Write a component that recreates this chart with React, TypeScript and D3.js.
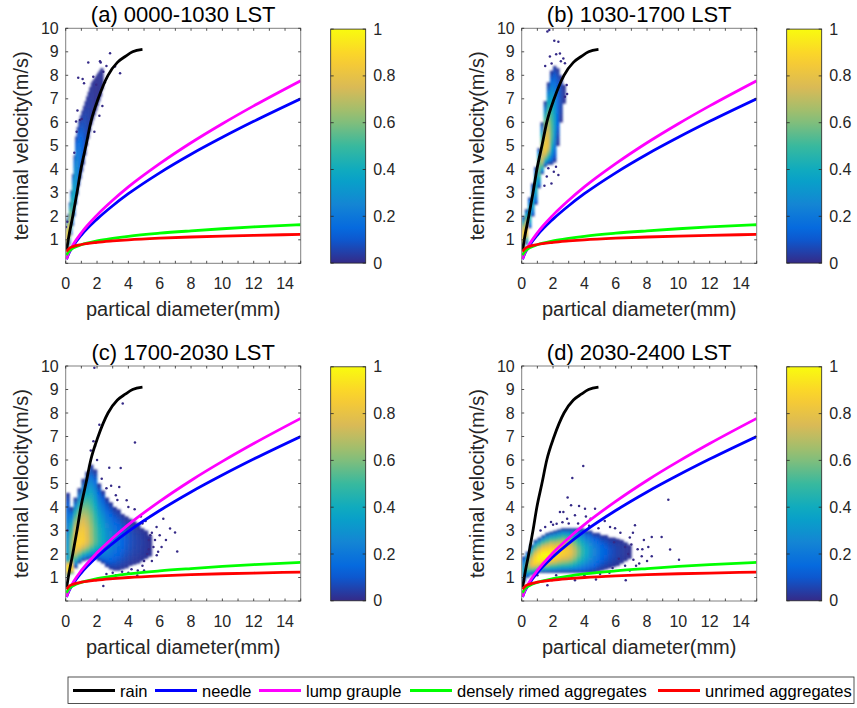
import React, { useEffect } from 'react';
import * as d3 from 'd3';

// ---- fall speed relations ----
const curveD = [0.05, 0.2, 0.5, 1, 2, 3, 4, 6, 8, 10, 12, 15];
const needleV = [0.17, 0.42, 0.76, 1.2, 1.88, 2.45, 2.96, 3.85, 4.64, 5.36, 6.04, 7.0];
const lumpV = [0.18, 0.45, 0.82, 1.3, 2.05, 2.68, 3.25, 4.24, 5.13, 5.94, 6.7, 7.77];
const rimedV = [0.35, 0.51, 0.66, 0.79, 0.95, 1.06, 1.15, 1.28, 1.38, 1.47, 1.55, 1.64];
const unrimedV = [0.5, 0.62, 0.72, 0.8, 0.89, 0.95, 1.0, 1.07, 1.12, 1.16, 1.19, 1.23];
const rainD = [0.06, 0.2, 0.45, 0.72, 0.97, 1.29, 1.6, 2.07, 2.7, 3.3, 3.8, 4.27, 4.9];
const rainV = [0.57, 1.15, 2, 3, 4, 5, 6, 7, 8, 8.55, 8.8, 9.0, 9.1];

const legendNames = ['rain', 'needle', 'lump grauple', 'densely rimed aggregates', 'unrimed aggregates'];
const legendColors = ['#000000', '#0000ff', '#ff00ff', '#00ff00', '#ff0000'];

const panelTitles = ['(a) 0000-1030 LST', '(b) 1030-1700 LST', '(c) 1700-2030 LST', '(d) 2030-2400 LST'];

const xTickValues = d3.range(0, 16);
const xTickLabels = [0, 2, 4, 6, 8, 10, 12, 14];
const yTickValues = d3.range(0, 11);
const yTickLabels = [1, 2, 3, 4, 5, 6, 7, 8, 9, 10];
const cbTicks = [0, 0.2, 0.4, 0.6, 0.8, 1];

// ---- normalised point density, read per diameter bin:
// [diameter, lowest v, highest v, v at peak, peak density, (density at low end), (density at high end)]
const binWidth = [0.1, 0.2, 0.25, 0.25];
const cloudA = [
  [0.05, 0.5, 1.9, 0.95, 0.85],
  [0.15, 0.6, 2.1, 1.2, 0.95],
  [0.25, 0.8, 2.6, 1.5, 0.85],
  [0.35, 1.2, 3.1, 1.9, 0.62],
  [0.45, 1.6, 3.8, 2.4, 0.48],
  [0.55, 2.0, 4.6, 2.9, 0.4],
  [0.65, 2.5, 5.4, 3.4, 0.32],
  [0.75, 2.9, 5.8, 3.9, 0.26],
  [0.85, 3.3, 6.1, 4.3, 0.2],
  [0.95, 3.6, 6.3, 4.6, 0.16],
  [1.05, 3.9, 6.5, 4.8, 0.13],
  [1.15, 4.2, 6.7, 5.0, 0.1],
  [1.25, 4.6, 6.9, 5.3, 0.08],
  [1.35, 5.0, 7.1, 5.7, 0.06],
  [1.45, 5.3, 7.3, 6.0, 0.05],
  [1.55, 5.6, 7.5, 6.3, 0.04],
  [1.65, 5.9, 7.7, 6.6, 0.03],
  [1.75, 6.1, 7.8, 6.8, 0.03],
  [1.85, 6.3, 7.9, 7.0, 0.02],
  [1.95, 6.5, 8.0, 7.2, 0.02],
  [2.05, 6.7, 8.1, 7.4, 0.02],
  [2.15, 6.9, 8.2, 7.6, 0.02],
  [2.25, 7.1, 8.3, 7.8, 0.02],
  [2.35, 7.4, 8.3, 7.9, 0.02],
];
const cloudB = [
  [0.1, 0.55, 2.0, 1.1, 0.92],
  [0.3, 0.8, 2.3, 1.4, 0.85],
  [0.5, 1.5, 2.8, 2.0, 0.45],
  [0.7, 2.0, 3.4, 2.6, 0.38],
  [0.9, 2.5, 4.1, 3.3, 0.42],
  [1.1, 3.2, 4.9, 4.1, 0.58],
  [1.3, 3.8, 6.0, 4.5, 0.75],
  [1.5, 4.1, 6.9, 4.9, 0.85],
  [1.7, 4.2, 7.7, 5.1, 0.78],
  [1.9, 4.2, 8.2, 5.5, 0.55],
  [2.1, 4.3, 8.4, 6.0, 0.35],
  [2.3, 5.0, 8.3, 6.8, 0.16],
  [2.5, 6.0, 8.0, 7.2, 0.07],
  [2.7, 6.8, 7.6, 7.2, 0.03],
];
const cloudC = [
  [0.125, 1.05, 1.75, 1.4, 0.93, 0.5, 0.35],
  [0.125, 1.75, 4.6, 1.75, 0.35],
  [0.375, 1.15, 1.8, 1.45, 0.9, 0.5, 0.55],
  [0.375, 1.8, 4.0, 2.3, 0.62, 0.55],
  [0.625, 1.4, 4.4, 2.4, 0.85],
  [0.875, 1.6, 4.8, 2.5, 0.88],
  [1.125, 1.7, 5.2, 2.6, 0.86],
  [1.375, 1.75, 5.5, 2.6, 0.78],
  [1.625, 1.8, 5.8, 2.6, 0.66],
  [1.875, 1.8, 5.6, 2.6, 0.55],
  [2.125, 1.7, 5.0, 2.6, 0.45],
  [2.375, 1.6, 4.7, 2.6, 0.38],
  [2.625, 1.45, 4.4, 2.6, 0.3],
  [2.875, 1.35, 4.2, 2.6, 0.25],
  [3.125, 1.3, 4.0, 2.6, 0.2],
  [3.375, 1.3, 3.9, 2.6, 0.16],
  [3.625, 1.35, 3.7, 2.6, 0.13],
  [3.875, 1.4, 3.6, 2.6, 0.1],
  [4.125, 1.5, 3.5, 2.6, 0.08],
  [4.375, 1.55, 3.4, 2.6, 0.06],
  [4.625, 1.6, 3.3, 2.5, 0.05],
  [4.875, 1.7, 3.1, 2.5, 0.04],
  [5.125, 1.8, 3.0, 2.4, 0.03],
  [5.375, 1.9, 2.8, 2.4, 0.02],
];
const cloudD = [
  [0.125, 0.8, 1.9, 1.3, 0.35],
  [0.375, 1.0, 2.1, 1.5, 0.6],
  [0.625, 1.1, 2.4, 1.6, 0.8],
  [0.875, 1.15, 2.6, 1.7, 0.92],
  [1.125, 1.2, 2.7, 1.8, 0.98],
  [1.375, 1.2, 2.8, 1.9, 1.0],
  [1.625, 1.2, 2.9, 1.9, 1.0],
  [1.875, 1.2, 2.95, 2.0, 0.97],
  [2.125, 1.2, 3.0, 2.0, 0.93],
  [2.375, 1.2, 3.05, 2.05, 0.9],
  [2.625, 1.2, 3.1, 2.1, 0.88],
  [2.875, 1.2, 3.1, 2.1, 0.85],
  [3.125, 1.2, 3.1, 2.1, 0.8],
  [3.375, 1.2, 3.1, 2.1, 0.7],
  [3.625, 1.2, 3.1, 2.1, 0.58],
  [3.875, 1.2, 3.1, 2.1, 0.47],
  [4.125, 1.2, 3.0, 2.1, 0.38],
  [4.375, 1.2, 3.0, 2.1, 0.3],
  [4.625, 1.2, 2.9, 2.1, 0.24],
  [4.875, 1.25, 2.9, 2.1, 0.19],
  [5.125, 1.3, 2.8, 2.1, 0.15],
  [5.375, 1.35, 2.8, 2.1, 0.12],
  [5.625, 1.4, 2.7, 2.1, 0.09],
  [5.875, 1.45, 2.7, 2.1, 0.07],
  [6.125, 1.5, 2.65, 2.1, 0.05],
  [6.375, 1.6, 2.6, 2.1, 0.04],
  [6.625, 1.7, 2.5, 2.1, 0.03],
  [6.875, 1.8, 2.4, 2.1, 0.02],
];

// isolated points outside the dense cloud [diameter, v]
const dotsA = [
  [2.83, 8.94], [2.23, 8.55], [1.44, 8.54], [2.19, 8.6], [1.76, 7.94], [0.8, 7.9], [1.08, 7.84],
  [1.17, 7.66], [3.47, 8.09], [3.15, 8.37], [2.4, 8.15], [0.66, 6.03], [0.91, 6.1], [1.02, 6.14],
  [2.15, 6.28], [2.34, 6.69], [1.83, 5.6], [0.1, 1.77], [0.02, 1.55], [0.55, 4.7], [2.6, 8.4],
  [1.95, 7.6], [2.5, 7.7], [0.75, 6.5], [0.7, 5.6],
];
const dotsB = [
  [1.64, 9.86], [1.76, 9.93], [2.08, 9.47], [2.34, 9.43], [2.44, 8.93], [2.76, 8.51], [2.66, 8.72],
  [1.8, 8.8], [1.91, 8.5], [2.87, 7.59], [2.76, 7.09], [1.6, 3.69], [1.7, 4.04], [2.34, 3.76],
  [2.19, 4.11], [1.9, 3.4], [2.05, 3.9], [1.45, 3.3], [2.2, 8.9], [2.5, 8.6], [1.5, 8.4], [2.9, 7.2],
];
const dotsC = [
  [1.83, 9.93], [3.64, 8.4], [2.15, 7.5], [4.42, 6.74], [1.77, 6.8], [1.88, 6.6], [1.6, 6.4],
  [3.51, 5.66], [2.78, 5.67], [3.42, 4.85], [3.89, 4.29], [6.23, 3.5], [5.8, 3.15], [6.98, 2.91],
  [6.66, 3.08], [7.12, 2.11], [5.81, 1.95], [6.12, 2.3], [4.57, 1.09], [2.4, 0.64], [0.1, 3.0],
  [5.3, 2.6], [5.5, 1.7], [5.1, 3.4], [4.0, 1.2], [3.2, 1.1], [2.6, 1.15], [4.9, 1.5], [2.3, 5.2],
  [2.9, 4.9], [3.2, 4.5], [5.6, 2.3], [6.4, 2.6], [5.0, 1.3], [4.4, 3.9], [2.0, 6.0], [5.2, 2.0],
  [5.4, 2.8], [5.7, 2.6], [4.8, 3.6], [5.0, 1.7], [4.6, 1.3], [6.0, 2.8], [5.9, 2.1],
  [3.0, 1.2], [3.6, 1.25], [4.2, 1.35], [4.0, 4.0], [3.3, 4.3], [2.6, 4.8], [5.5, 2.9], [5.3, 2.2],
  [4.9, 3.3],
];
const dotsD = [
  [3.93, 5.74], [3.23, 5.23], [2.93, 4.4], [9.36, 4.31], [2.44, 3.79], [2.66, 3.79], [3.15, 4.07],
  [3.66, 4.04], [4.04, 3.93], [4.68, 3.93], [3.4, 3.65], [4.1, 3.6], [1.87, 3.36], [2.23, 3.29],
  [5.64, 3.15], [5.96, 3.1], [7.23, 3.22], [8.3, 2.72], [8.93, 2.72], [6.9, 2.7], [9.47, 2.19],
  [10.04, 1.76], [8.08, 2.3], [8.3, 1.9], [7.66, 1.9], [7.13, 1.76], [6.6, 1.5], [3.4, 0.88],
  [4.74, 0.92], [6.64, 0.88], [1.64, 0.67], [7.4, 2.2], [7.0, 2.4], [6.3, 2.9], [7.8, 2.6],
  [6.9, 1.3], [5.3, 3.4], [4.4, 3.5], [2.9, 3.5], [5.6, 1.2], [7.5, 1.6], [5.9, 2.5], [6.2, 1.8],
  [6.6, 2.3], [7.1, 2.9], [7.7, 2.2], [8.0, 1.7], [6.8, 2.0], [5.8, 1.4], [7.3, 1.5],
  [1.2, 3.0], [1.5, 3.15], [2.0, 3.25], [2.6, 3.35], [3.0, 3.3], [3.6, 3.3], [4.3, 3.2],
  [4.9, 3.1], [1.0, 1.1], [2.2, 1.1], [3.0, 1.05], [4.0, 1.1], [5.0, 1.15],
];

const clouds = [cloudA, cloudB, cloudC, cloudD];
const dotSets = [dotsA, dotsB, dotsC, dotsD];

const parulaColors = ['#352a87', '#0363e1', '#1485d4', '#06a7c6', '#38b99e', '#92bf73', '#d9ba56', '#fcce2e', '#f9fb0e'];
const parula = d3.scaleLinear<string>()
  .domain(d3.range(9).map(i => i / 8))
  .range(parulaColors)
  .interpolate(d3.interpolateRgb)
  .clamp(true);

const FONT = "'Liberation Sans', Arial, Helvetica, sans-serif";
const INK = '#262626';
const PW = 235, PH = 235;
const origins = [[65.7, 28.3], [521.7, 28.3], [65.7, 366], [521.7, 366]];

// gradient stops down one density column (top edge -> peak -> bottom edge)
function columnStops(c: number[]) {
  const [, lo, hi, pk, den] = c;
  const loDen = c[5] ?? 0.02;
  const hiDen = c[6] ?? 0.02;
  const pkOff = (hi - pk) / (hi - lo);
  const stops: [number, number][] = [];
  const n = 6;
  for (let i = 0; i <= n; i++) {
    const f = i / n;
    stops.push([pkOff * f, hiDen + (den - hiDen) * Math.sin(f * Math.PI / 2)]);
  }
  for (let i = n - 1; i >= 0; i--) {
    const f = i / n;
    stops.push([pkOff + (1 - pkOff) * (1 - f), loDen + (den - loDen) * Math.sin(f * Math.PI / 2)]);
  }
  return stops;
}

function Panel({ idx }: { idx: number }) {
  const [x0, y0] = origins[idx];
  const xs = d3.scaleLinear().domain([0, 15]).range([x0, x0 + PW]);
  const ys = d3.scaleLinear().domain([0, 10]).range([y0 + PH, y0]);
  const cloud = clouds[idx];
  const dots = dotSets[idx];
  const bw = binWidth[idx];
  const pid = 'p' + idx;

  const line = (D: number[]) => d3.line<number>()
    .x((_, i) => xs(D[i]))
    .y(v => ys(v))
    .curve(d3.curveMonotoneX);
  const curves = [
    { d: line(rainD)(rainV), c: legendColors[0] },
    { d: line(curveD)(needleV), c: legendColors[1] },
    { d: line(curveD)(lumpV), c: legendColors[2] },
    { d: line(curveD)(rimedV), c: legendColors[3] },
    { d: line(curveD)(unrimedV), c: legendColors[4] },
  ];

  const cbX = x0 + 265, cbW = 35;
  const cbY0 = y0 + 0.8, cbH = 234;
  const cs = d3.scaleLinear().domain([0, 1]).range([cbY0 + cbH, cbY0]);

  return (
    <g>
      <defs>
        <clipPath id={`clip-${pid}`}>
          <rect x={x0} y={y0} width={PW} height={PH} />
        </clipPath>
        <filter id={`blur-${pid}`} x="-5%" y="-5%" width="110%" height="110%">
          <feGaussianBlur stdDeviation="0.85" />
        </filter>
        {cloud.map((c, i) => (
          <linearGradient key={i} id={`g-${pid}-${i}`} x1="0" y1="0" x2="0" y2="1">
            {columnStops(c).map(([o, dv], j) => (
              <stop key={j} offset={o} stopColor={parula(dv)} />
            ))}
          </linearGradient>
        ))}
        <linearGradient id={`cb-${pid}`} x1="0" y1="1" x2="0" y2="0">
          {d3.range(0, 1.0001, 0.05).map((t, j) => (
            <stop key={j} offset={t} stopColor={parula(t)} />
          ))}
        </linearGradient>
      </defs>

      <rect x={x0} y={y0} width={PW} height={PH} fill="#fff" />

      <g clipPath={`url(#clip-${pid})`}>
        <g filter={`url(#blur-${pid})`}>
          {cloud.map((c, i) => (
            <rect key={i}
              x={xs(c[0] - bw / 2)} width={xs(c[0] + bw / 2) - xs(c[0] - bw / 2) + 0.3}
              y={ys(c[2])} height={ys(c[1]) - ys(c[2]) + 0.2}
              fill={`url(#g-${pid}-${i})`} />
          ))}
        </g>
        {dots.map((p, i) => (
          <circle key={i} cx={xs(p[0])} cy={ys(p[1])} r={1.25} fill={parula(0)} />
        ))}
        {curves.map((c, i) => (
          <path key={i} d={c.d || ''} fill="none" stroke={c.c} strokeWidth={2.8} />
        ))}
      </g>

      {/* box and ticks */}
      <rect x={x0} y={y0} width={PW} height={PH} fill="none" stroke="#808080" strokeWidth={1} />
      {xTickValues.map(t => (
        <g key={'xt' + t} stroke={INK} strokeWidth={0.8}>
          <line x1={xs(t)} x2={xs(t)} y1={y0 + PH} y2={y0 + PH - 2.5} />
          <line x1={xs(t)} x2={xs(t)} y1={y0} y2={y0 + 2.5} />
        </g>
      ))}
      {yTickValues.map(t => (
        <g key={'yt' + t} stroke={INK} strokeWidth={0.8}>
          <line x1={x0} x2={x0 + 2.5} y1={ys(t)} y2={ys(t)} />
          <line x1={x0 + PW} x2={x0 + PW - 2.5} y1={ys(t)} y2={ys(t)} />
        </g>
      ))}
      {xTickLabels.map(t => (
        <text key={'xl' + t} x={xs(t)} y={y0 + PH + 26} textAnchor="middle"
          fontFamily={FONT} fontSize={16} fill={INK}>{t}</text>
      ))}
      {yTickLabels.map(t => (
        <text key={'yl' + t} x={x0 - 7} y={ys(t)} textAnchor="end" dominantBaseline="central"
          fontFamily={FONT} fontSize={16} fill={INK}>{t}</text>
      ))}
      <text x={x0 + PW / 2} y={y0 + PH + 53} textAnchor="middle" fontFamily={FONT} fontSize={20} fill={INK}>
        partical diameter(mm)
      </text>
      <text transform={`translate(${x0 - 38},${y0 + PH / 2}) rotate(-90)`} textAnchor="middle"
        fontFamily={FONT} fontSize={20} fill={INK}>
        terminal velocity(m/s)
      </text>
      <text x={x0 + PW / 2} y={y0 - 6.5} textAnchor="middle" fontFamily={FONT} fontSize={22} fill="#000">
        {panelTitles[idx]}
      </text>

      {/* colorbar */}
      <rect x={cbX} y={cbY0} width={cbW} height={cbH} fill={`url(#cb-${pid})`} stroke={INK} strokeWidth={0.8} />
      {cbTicks.map(t => (
        <g key={'cb' + t}>
          <line x1={cbX + cbW} x2={cbX + cbW - 3} y1={cs(t)} y2={cs(t)} stroke={INK} strokeWidth={0.8} />
          <line x1={cbX} x2={cbX + 3} y1={cs(t)} y2={cs(t)} stroke={INK} strokeWidth={0.8} />
          <text x={cbX + cbW + 7.5} y={cs(t)} dominantBaseline="central" fontFamily={FONT} fontSize={16} fill={INK}>
            {t === 0 || t === 1 ? String(t) : t.toFixed(1)}
          </text>
        </g>
      ))}
    </g>
  );
}

function Legend() {
  const itemX = [73, 155, 259, 410, 658];
  const ly = 690.5;
  return (
    <g>
      <rect x={68} y={677} width={786} height={26.5} fill="#fff" stroke={INK} strokeWidth={0.8} />
      {legendNames.map((n, i) => (
        <g key={n}>
          <line x1={itemX[i]} x2={itemX[i] + 42} y1={ly} y2={ly} stroke={legendColors[i]} strokeWidth={2.8} />
          <text x={itemX[i] + 47} y={ly + 6} fontFamily={FONT} fontSize={16.5} fill="#000">{n}</text>
        </g>
      ))}
    </g>
  );
}

export default function App() {
  useEffect(() => {
    document.body.style.margin = '0';
    document.body.style.overflow = 'hidden';
  }, []);
  return (
    <svg width={857} height={708} style={{ position: 'absolute', left: 0, top: 0, background: '#fff' }}>
      <rect width={857} height={708} fill="#fff" />
      {[0, 1, 2, 3].map(i => <Panel key={i} idx={i} />)}
      <Legend />
    </svg>
  );
}
